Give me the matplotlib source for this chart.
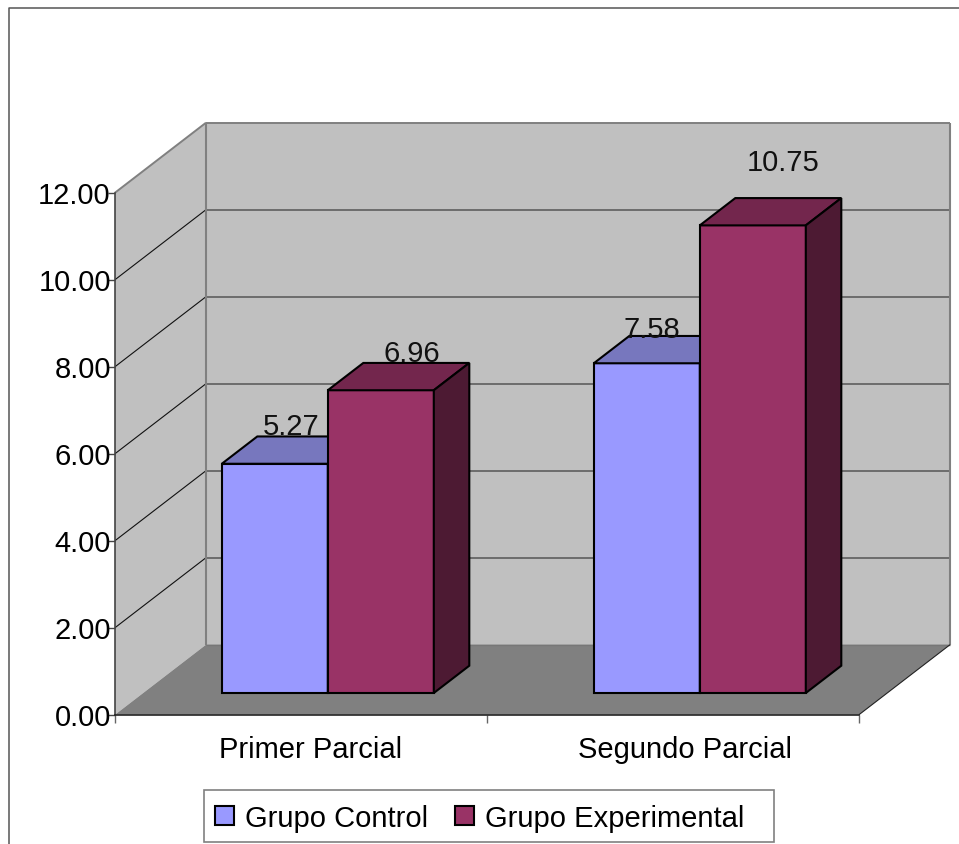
# 3D-look clustered bars drawn on a plain 2D axes
import matplotlib
matplotlib.use("Agg")
import matplotlib.pyplot as plt
from matplotlib.lines import Line2D
from matplotlib.patches import Patch, Polygon, Rectangle
from matplotlib.transforms import ScaledTranslation

plt.rcParams['font.family'] = ['Liberation Sans', 'DejaVu Sans']

# data
categories = ['Primer Parcial', 'Segundo Parcial']
series_names = ['Grupo Control', 'Grupo Experimental']
grupo_control = [5.27, 7.58]
grupo_experimental = [6.96, 10.75]
y_ticks = [0, 2, 4, 6, 8, 10, 12]

# colours: front, top, side
control_cols = ('#9999FF', '#7777BE', '#4D4D80')
experimental_cols = ('#993366', '#73264D', '#4D1A33')

W, H = 959, 845
FS = 21
fig = plt.figure(figsize=(W / 100, H / 100), dpi=100)
ax = fig.add_axes([115 / W, (H - 715.7) / H, 744 / W, 522 / H])
ax.set_xlim(0, 2)
ax.set_ylim(0, 12)
ax.patch.set_visible(False)

# oblique projection, depth 0 is the front of the box and 1 the back wall
depth_x = 91 / 372
depth_y = 70 / 43.5


def proj(x, v, d):
    return (x + d * depth_x, v + d * depth_y)


def face(pts, fc, ec='none', lw=0, z=1):
    ax.add_patch(Polygon([proj(*p) for p in pts], closed=True, facecolor=fc,
                         edgecolor=ec, linewidth=lw, joinstyle='miter',
                         clip_on=False, zorder=z))


def seg(a, b, col, lw, z=2):
    pa, pb = proj(*a), proj(*b)
    ax.plot([pa[0], pb[0]], [pa[1], pb[1]], color=col, lw=lw,
            clip_on=False, zorder=z, solid_capstyle='butt')


# walls and floor
face([(0, 0, 1), (2, 0, 1), (2, 12, 1), (0, 12, 1)], '#C0C0C0')
face([(0, 0, 0), (0, 0, 1), (0, 12, 1), (0, 12, 0)], '#C0C0C0')
face([(0, 0, 0), (2, 0, 0), (2, 0, 1), (0, 0, 1)], '#808080')

# gridlines go along the side wall and then across the back
for v in y_ticks[1:-1]:
    seg((0, v, 0), (0, v, 1), '#111111', 0.8)
    seg((0, v, 1), (2, v, 1), '#555555', 1.1)

seg((0, 12, 0), (0, 12, 1), '#808080', 1.4)
seg((0, 12, 1), (2, 12, 1), '#808080', 1.4)
seg((0, 0, 1), (0, 12, 1), '#808080', 1.5)
seg((2, 0, 1), (2, 12, 1), '#808080', 1.5)
seg((0, 0, 1), (2, 0, 1), '#777777', 1.0)
seg((2, 0, 0), (2, 0, 1), '#222222', 0.8)

# bars
bar_w = 106 / 372
gap = 78.6 / 372
d0, d1 = 0.31, 0.70


def bar3d(x0, v, cols, z):
    x1 = x0 + bar_w
    face([(x0, 0, d0), (x1, 0, d0), (x1, v, d0), (x0, v, d0)], cols[0], 'black', 1.5, z)
    face([(x0, v, d0), (x1, v, d0), (x1, v, d1), (x0, v, d1)], cols[1], 'black', 1.5, z)
    face([(x1, 0, d0), (x1, 0, d1), (x1, v, d1), (x1, v, d0)], cols[2], 'black', 1.5, z)


label_shift = [(12, 27.5), (22.5, 26.5), (4, 24.5), (21.5, 45.5)]
k = 0
for i in range(len(categories)):
    x0 = i + gap
    bar3d(x0, grupo_control[i], control_cols, 3)
    bar3d(x0 + bar_w, grupo_experimental[i], experimental_cols, 4)
    for x, v in [(x0, grupo_control[i]), (x0 + bar_w, grupo_experimental[i])]:
        px, py = proj(x + bar_w / 2, v, d0)
        ax.annotate('%.2f' % v, (px, py), xytext=label_shift[k],
                    textcoords='offset points', ha='center', va='center',
                    fontsize=FS, color='#111111', zorder=6, annotation_clip=False)
        k += 1

# axes
for s in ['top', 'right']:
    ax.spines[s].set_visible(False)
ax.spines['left'].set_color('#444444')
ax.spines['left'].set_linewidth(1.2)
ax.spines['bottom'].set_color('#222222')
ax.spines['bottom'].set_linewidth(1.2)
ax.spines['left'].set_zorder(5)
ax.spines['bottom'].set_zorder(5)
ax.set_yticks(y_ticks)
ax.set_yticklabels(['%.2f' % v for v in y_ticks], fontsize=FS, color='black')
ax.tick_params(axis='y', length=5, width=1, color='#444444', pad=-2)
ax.set_xticks(range(len(categories) + 1))
ax.set_xticklabels([])
ax.tick_params(axis='x', length=6, width=1, color='#666666')
nudge = ScaledTranslation(0, -2 / 72, fig.dpi_scale_trans)
for lab in ax.get_yticklabels():
    lab.set_verticalalignment('center')
    lab.set_transform(lab.get_transform() + nudge)

# category names sit a little to the right of the centre of each slot
name_shift = [7, 9]
for i, name in enumerate(categories):
    ax.annotate(name, (i + 0.5, 0), xytext=(name_shift[i], -24.7),
                textcoords='offset points', ha='center', va='center',
                fontsize=FS, annotation_clip=False)

# legend box is wider than its contents, so it gets its own frame
fig.add_artist(Rectangle((204 / W, (H - 843) / H), 570 / W, 52 / H,
                         transform=fig.transFigure, facecolor='white',
                         edgecolor='#808080', linewidth=1.2))
handles = [Patch(facecolor=control_cols[0], edgecolor='black', linewidth=1.5),
           Patch(facecolor=experimental_cols[0], edgecolor='black', linewidth=1.5)]
leg = fig.legend(handles, series_names, ncol=2, loc='center left',
                 bbox_to_anchor=(204 / W, (H - 819) / H), fontsize=FS,
                 frameon=False, handlelength=0.65, handleheight=0.65,
                 handletextpad=0.38, columnspacing=0.93, borderpad=0.38,
                 borderaxespad=0)

# outer frame, open on the right and at the bottom
fig.add_artist(Line2D([9 / W, 9 / W, 1], [0, (H - 8.5) / H, (H - 8.5) / H],
                      color='#555555', lw=1.1))

fig.savefig('out.png', dpi=100)
